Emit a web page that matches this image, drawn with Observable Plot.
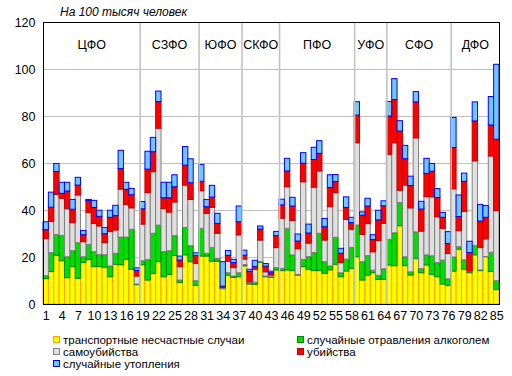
<!DOCTYPE html>
<html>
<head>
<meta charset="utf-8">
<script src="https://cdn.jsdelivr.net/npm/d3@7"></script>
<script src="https://cdn.jsdelivr.net/npm/@observablehq/plot@0.6"></script>
<style>
  body { margin: 0; background: #fff; font-family: "Liberation Sans", Arial, sans-serif; }
  #wrap { position: relative; width: 512px; height: 376px; }
  #title { position: absolute; left: 60px; top: 5px; font-size: 12px; font-style: italic; }
  .lg { position: absolute; font-size: 11.5px; line-height: 12px; white-space: nowrap; }
  .sw { display: inline-block; width: 5px; height: 5px; margin-right: 3px; vertical-align: 1px; border: 1px solid; }
</style>
</head>
<body>
<div id="wrap">
  <div id="chart"></div>
  <div id="title">На 100 тысяч человек</div>
  <div id="legend"></div>
</div>
<script>
// Region index 1..85
const transport = [10.8,13.8,20.7,18.4,11.2,15.9,10.9,17.7,18.9,15.9,15.9,15.6,11.6,16.9,16.7,19.0,14.8,8.2,
  16.7,10.2,13.0,18.0,11.6,12.6,20.6,9.1,20.9,18.0,7.9,
  20.4,20.4,18.2,18.2,6.5,12.2,11.3,11.6,
  16.2,8.5,8.4,17.7,11.6,11.3,14.5,
  14.2,14.5,14.2,12.3,15.9,14.8,14.2,14.2,13.0,14.5,16.9,11.6,14.0,15.2,
  20.1,10.2,12.3,13.3,10.5,10.5,
  16.6,16.3,33.3,16.3,12.3,19.4,13.3,16.6,12.6,11.6,8.5,7.9,
  14.0,23.3,14.8,13.3,20.9,14.2,20.1,13.8,6.2];
const alcohol = [1.3,8.1,8.9,10.8,8.9,6.8,15.2,2.4,6.5,6.4,5.2,5.4,4.6,4.7,11.8,9.5,17.0,0.3,
  1.7,8.8,17.1,15.6,10.7,10.1,8.5,1.1,11.7,6.8,2.0,
  11.8,1.2,5.9,1.2,0.2,1.1,0.6,1.7,
  0.6,0.6,0.9,0.3,0.3,0.3,1.0,
  1.0,17.7,6.7,0.3,3.1,5.4,7.7,15.9,5.0,1.7,11.5,1.7,5.1,8.9,
  13.5,7.8,8.3,1.1,1.7,4.5,
  10.9,14.0,9.9,3.8,1.4,11.3,1.8,4.3,7.9,6.1,10.2,2.8,
  6.0,1.1,4.0,0.4,4.0,0.3,0.1,8.2,3.7];
const suicide = [15.7,13.2,17.0,15.8,20.5,11.9,20.3,6.4,13.5,12.0,12.1,5.1,14.6,9.9,20.4,13.8,9.1,3.4,
  15.6,28.4,26.2,41.2,18.3,16.4,14.3,5.7,18.0,19.7,7.4,
  16.0,17.0,17.0,10.7,0.3,4.9,3.6,16.1,
  2.3,0.4,5.5,9.2,1.8,0.7,8.5,
  21.3,17.7,14.6,10.9,33.0,5.7,27.8,26.5,9.2,25.2,19.0,4.3,16.9,7.7,
  35.0,11.6,13.6,7.8,14.8,19.3,
  36.2,38.3,5.2,30.5,27.2,40.0,15.9,24.8,25.1,19.4,13.5,10.8,
  29.0,6.8,20.6,0.4,36.0,9.5,7.5,41.0,29.8];
const murder = [3.8,6.1,9.8,2.1,7.5,5.7,4.2,3.0,5.1,6.8,4.1,3.8,6.1,6.1,8.7,6.5,5.6,2.4,
  6.5,10.0,8.5,11.3,4.6,6.1,6.5,2.8,8.5,7.1,3.3,
  4.0,2.8,4.4,4.2,0.6,2.5,2.1,5.6,
  1.7,4.4,1.1,4.7,2.4,1.0,5.1,
  5.7,6.7,6.2,3.3,7.9,4.3,11.8,7.5,5.7,8.2,4.7,4.0,5.1,2.8,
  11.8,8.2,7.5,5.2,8.8,7.5,
  16.3,18.4,25.2,11.2,9.5,15.3,9.4,9.9,10.9,8.2,4.7,4.3,
  17.6,6.0,12.8,7.8,17.0,11.3,9.2,13.2,30.4];
const drowning = [3.4,6.4,3.4,4.7,3.7,4.2,3.3,1.8,0.5,3.0,2.6,2.7,3.0,4.4,7.8,3.0,2.7,1.1,
  3.1,7.6,6.1,4.5,6.6,6.6,5.1,1.7,7.9,10.2,1.2,
  7.2,3.1,5.0,4.3,10.4,2.1,1.4,6.7,
  2.1,0.9,2.7,1.3,1.1,0.7,1.8,
  2.4,5.4,3.7,3.0,4.5,3.8,5.2,5.4,3.5,5.4,3.0,2.1,4.5,2.3,
  5.7,1.4,3.3,2.1,4.1,2.1,
  6.2,8.9,4.4,5.7,4.0,4.4,3.3,6.4,3.3,3.8,2.1,5.0,
  12.8,9.2,3.5,4.8,8.1,7.1,5.0,12.1,31.9];

const seriesNames = ["транспортные несчастные случаи","случайные отравления алкоголем","самоубийства","убийства","случайные утопления"];
const seriesValues = [transport, alcohol, suicide, murder, drowning];
const fills   = ["#ffff00","#00dd00","#e0e0e0","#ff0000","#70c8ff"];
const strokes = ["#ffa000","#008800","#808080","#c00000","#0000ff"];

const regionNames = ["ЦФО","СЗФО","ЮФО","СКФО","ПФО","УФО","СФО","ДФО"];
const regionSizes = [18,11,8,7,14,6,12,9];
const xTicks = [1,4,7,10,13,16,19,22,25,28,31,34,37,40,43,46,49,52,55,58,61,64,67,70,73,76,79,82,85];
const yTicks = [0,20,40,60,80,100,120];

// build tables
const rows = seriesValues.flatMap((vals, s) => vals.map((v, k) => ({i: k + 1, v, s})));
let acc = 1;
const regions = regionNames.map((name, r) => {
  const start = acc; acc += regionSizes[r];
  return {name, start, end: acc - 1};
});

const chart = Plot.plot({
  width: 512,
  height: 326,
  marginLeft: 43,
  marginRight: 13,
  marginTop: 22,
  marginBottom: 22,
  style: {fontFamily: "'Liberation Sans', Arial, sans-serif", fontSize: "12px", color: "#000", background: "#fff"},
  x: {type: "linear", domain: [0.5, 85.5]},
  y: {domain: [0, 120]},
  color: {type: "identity"},
  marks: [
    Plot.ruleY(yTicks.filter(t => t > 0 && t < 120), {stroke: "#c0c0c0", strokeWidth: 1}),
    Plot.rectY(rows, {
      x1: d => d.i - 0.5, x2: d => d.i + 0.5, y: "v",
      fill: d => fills[d.s], stroke: d => strokes[d.s], strokeWidth: 1
    }),
    Plot.ruleX(regions.slice(1), {x: d => d.start - 0.5, stroke: "#c0c0c0", strokeWidth: 1.5}),
    Plot.text(regions, {x: d => (d.start + d.end) / 2, text: "name", frameAnchor: "top", dy: 18, fontSize: 12.5, fill: "#000"}),
    Plot.frame({stroke: "#000", strokeWidth: 1}),
    Plot.axisX({ticks: xTicks, tickSize: 0, tickPadding: 7, tickFormat: d => d, fontSize: 12.5, label: null}),
    Plot.axisY({ticks: yTicks, tickSize: 0, tickPadding: 8, fontSize: 12.5, label: null})
  ]
});
document.getElementById("chart").appendChild(chart);

// legend
const legendPos = [[53, 334], [297, 334], [53, 346], [297, 346], [53, 358]];
const lg = document.getElementById("legend");
seriesNames.forEach((name, s) => {
  const div = document.createElement("div");
  div.className = "lg";
  div.style.left = legendPos[s][0] + "px";
  div.style.top = legendPos[s][1] + "px";
  const sw = document.createElement("span");
  sw.className = "sw";
  sw.style.background = fills[s];
  sw.style.borderColor = strokes[s] === "#808080" ? "#808080" : strokes[s];
  div.appendChild(sw);
  div.appendChild(document.createTextNode(name));
  lg.appendChild(div);
});
</script>
</body>
</html>
